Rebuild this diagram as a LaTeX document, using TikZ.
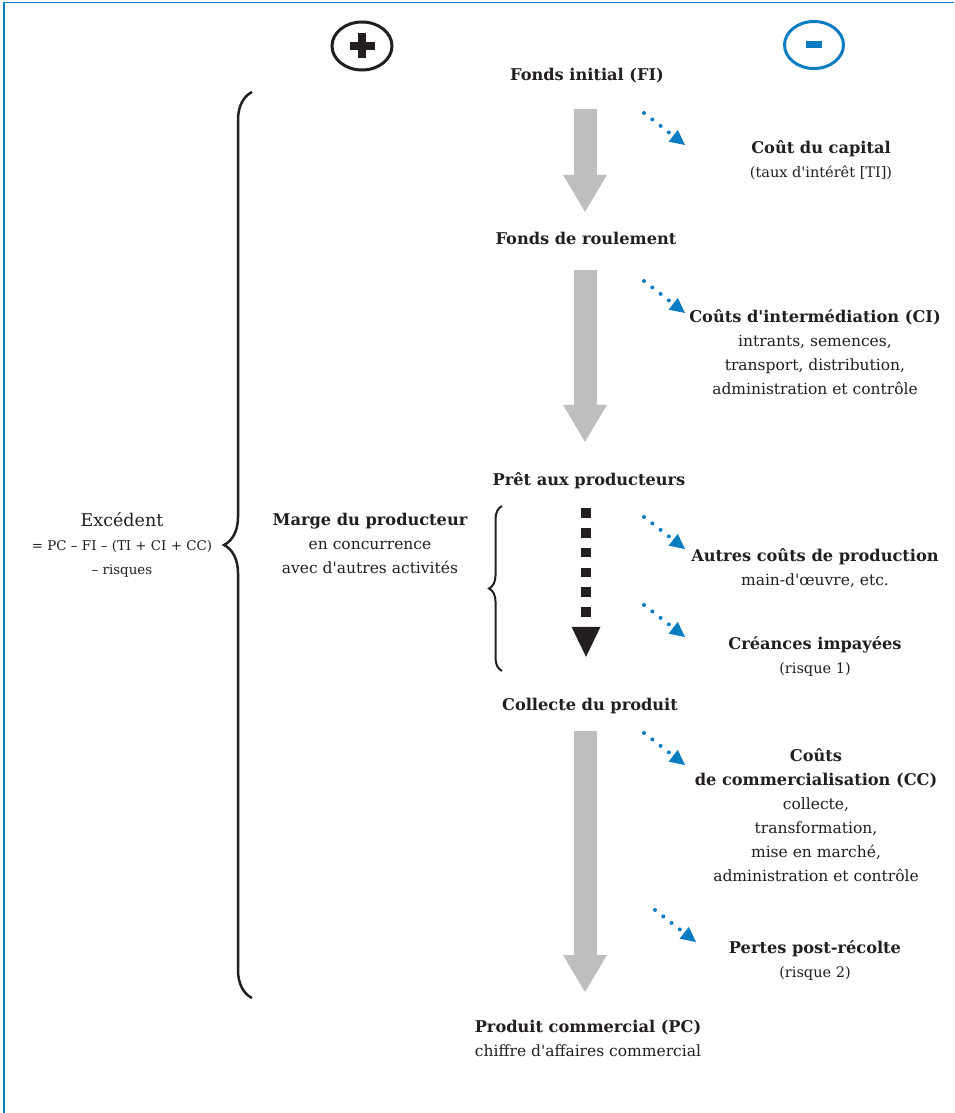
\documentclass[tikz,border=0pt]{standalone}
\usepackage{fontspec}
\setmainfont{DejaVu Serif}[Ligatures=TeXOff]
\usetikzlibrary{arrows.meta,calc,shapes.geometric,decorations.pathreplacing}
\definecolor{ink}{HTML}{231F20}
\definecolor{costblue}{HTML}{0A7DC2}
\definecolor{flowgray}{HTML}{BCBEC0}
\newcommand{\hd}[1]{{\fontsize{16.2}{24}\selectfont\bfseries #1}}
\newcommand{\smalltxt}[1]{{\fontsize{14.5}{24}\selectfont #1}}
\newcommand{\formtxt}[1]{{\fontsize{13.4}{23}\selectfont #1}}

\begin{document}
\begin{tikzpicture}[
  x=1pt,y=-1pt,text=ink,
  head/.style={font=\fontsize{16.2}{24}\selectfont\bfseries,inner sep=0pt,text height=11pt,text depth=3.5pt,anchor=base},
  block/.style={font=\fontsize{15.5}{24}\selectfont,align=center,inner sep=0pt,anchor=north},
  sign/.style={draw,ellipse,line width=3pt,inner sep=0pt},
  flow/.style={draw=flowgray,line width=23pt,-{Triangle[width=44pt,length=37pt,line width=0pt]}},
  steps/.style={draw=ink,line width=9.5pt,dash pattern=on 9.5pt off 10.3pt,-{Triangle[width=29pt,length=30pt,line width=0pt]}},
  cost/.style={draw=costblue,line width=4pt,line cap=round,dash pattern=on 0pt off 10.5pt,-{Triangle[width=15pt,length=15pt,line width=0pt]}},
  curly/.style={draw=ink,line width=2.5pt,decorate}
]
\useasboundingbox (0,0) rectangle (954,1113);
\fill[white] (0,0) rectangle (954,1113);
\draw[costblue,line width=1.6pt] (4,1113) -- (4,2.5) -- (954,2.5);

% plus / minus
\node[sign,draw=ink,minimum width=60pt,minimum height=48pt] (plus) at (362,46) {};
\node[sign,draw=costblue,minimum width=59pt,minimum height=47pt] (minus) at (814,45) {};
\fill[ink] ($(plus)+(-12.5,-4)$) rectangle ++(25,8);
\fill[ink] ($(plus)+(-4,-12.5)$) rectangle ++(8,25);
\fill[costblue] ($(minus)+(-8,-3.5)$) rectangle ++(16,7);

% main column
\node[head] (fi) at (587,81) {Fonds initial (FI)};
\node[head] (fr) at (586,244) {Fonds de roulement};
\node[head] (pret) at (589,485) {Prêt aux producteurs};
\node[head] (collecte) at (590,710) {Collecte du produit};
\node[block] (pc) at (588,1020) {\hd{Produit commercial (PC)}\\chiffre d'affaires commercial};

\draw[flow,shorten <=24.5pt,shorten >=21pt] (585,0 |- fi.south) -- (585,0 |- fr.north);
\draw[flow,shorten <=22.5pt,shorten >=32pt] (585,0 |- fr.south) -- (585,0 |- pret.north);
\draw[steps,shorten <=19.5pt,shorten >=42pt] (586,0 |- pret.south) -- (586,0 |- collecte.north);
\draw[flow,shorten <=17.5pt,shorten >=28pt] (585,0 |- collecte.south) -- (585,0 |- pc.north);

% costs
\node[block] (capital) at (821,140) {\hd{Coût du capital}\\\smalltxt{(taux d'intérêt [TI])}};
\node[block] (ci) at (815,309) {\hd{Coûts d'intermédiation (CI)}\\intrants, semences,\\transport, distribution,\\administration et contrôle};
\node[block] (autres) at (815,548) {\hd{Autres coûts de production}\\main-d'œuvre, etc.};
\node[block] (creances) at (815,636) {\hd{Créances impayées}\\\smalltxt{(risque 1)}};
\node[block] (cc) at (816,748) {\hd{Coûts}\\\hd{de commercialisation (CC)}\\collecte,\\transformation,\\mise en marché,\\administration et contrôle};
\node[block] (pertes) at (815,940) {\hd{Pertes post-récolte}\\\smalltxt{(risque 2)}};

\foreach \n/\sx/\sy in {1/644/113,2/644/281,3/644/517,4/644/605,5/644/733,6/655/910} {
  \coordinate (s\n) at (\sx,\sy);
  \coordinate (e\n) at ($(s\n)+(41,32)$);
  \draw[cost] (s\n) -- (e\n);
}

% left side
\node[block] (excedent) at (122,512) {{\fontsize{17.5}{24}\selectfont Excédent}\\\formtxt{= PC – FI – (TI + CI + CC)}\\\formtxt{– risques}};
\node[block] (marge) at (370,513) {\hd{Marge du producteur}\\en concurrence\\avec d'autres activités};

\coordinate (bigtop) at (252,92);
\coordinate (bigbot) at (252,998);
\draw[curly,decoration={brace,amplitude=28pt}] (bigbot) -- (bigtop);
\coordinate (smtop) at (502,506);
\coordinate (smbot) at (502,671);
\draw[curly,line width=2pt,decoration={brace,amplitude=13pt}] (smbot) -- (smtop);
\end{tikzpicture}
\end{document}
